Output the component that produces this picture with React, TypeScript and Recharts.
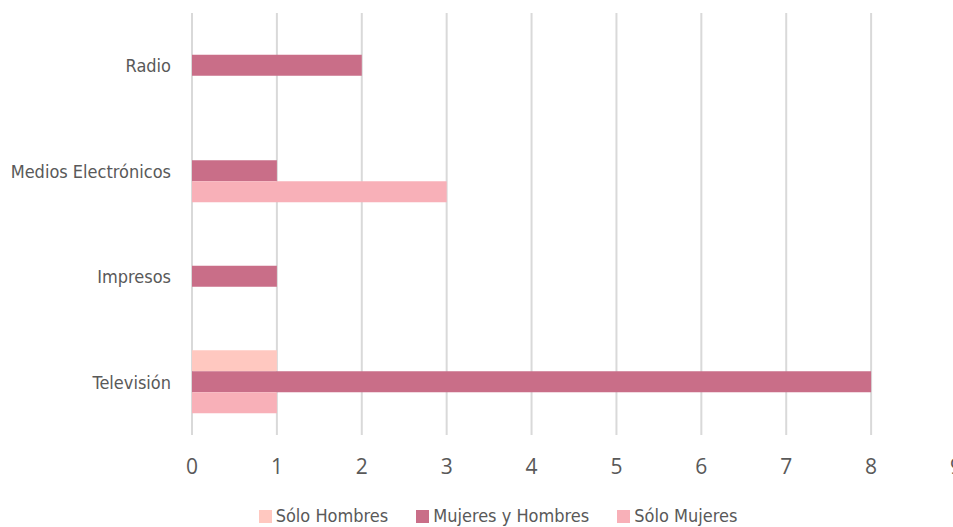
import { BarChart, Bar, XAxis, YAxis, CartesianGrid, Legend } from 'recharts';

const categories = ['Radio', 'Medios Electrónicos', 'Impresos', 'Televisión'];
const soloHombres = [0, 0, 0, 1];
const mujeresYHombres = [2, 1, 1, 8];
const soloMujeres = [0, 3, 0, 1];
const xTicks = [0, 1, 2, 3, 4, 5, 6, 7, 8, 9];

const series = [
  { key: 'soloHombres', name: 'Sólo Hombres', color: '#FFC8C0' },
  { key: 'mujeresYHombres', name: 'Mujeres y Hombres', color: '#C96E88' },
  { key: 'soloMujeres', name: 'Sólo Mujeres', color: '#F8B0B8' },
];

const data = categories.map((name, i) => ({
  name,
  soloHombres: soloHombres[i],
  mujeresYHombres: mujeresYHombres[i],
  soloMujeres: soloMujeres[i],
}));

const narrow = '"Liberation Sans Narrow", "DejaVu Sans Condensed", sans-serif';

function LegendRow() {
  return (
    <div style={{ display: 'flex', justifyContent: 'center', gap: 28, fontFamily: narrow, fontSize: 18, lineHeight: '24px', color: '#595959', paddingLeft: 40 }}>
      {series.map((s) => (
        <div key={s.key} style={{ display: 'flex', alignItems: 'center', gap: 4 }}>
          <span style={{ display: 'inline-block', width: 13, height: 13, background: s.color }} />
          <span>{s.name}</span>
        </div>
      ))}
    </div>
  );
}

export default function App() {
  return (
    <div style={{ position: 'absolute', left: 0, top: 0, width: 953, height: 527, overflow: 'hidden', background: '#fff' }}>
      <BarChart
        width={970}
        height={527}
        data={data}
        layout="vertical"
        margin={{ top: 13, right: 14, bottom: 0, left: 0 }}
        barCategoryGap="19.6%"
        barGap={0}
      >
        <CartesianGrid horizontal={false} stroke="#D9D9D9" strokeWidth={2} />
        <XAxis
          type="number"
          domain={[0, 9]}
          ticks={xTicks}
          axisLine={false}
          tickLine={false}
          tickSize={0}
          tickMargin={24}
          height={68}
          interval={0}
          tick={{ fill: '#595959', fontSize: 21, fontFamily: '"Open Sans", sans-serif' }}
        />
        <YAxis
          type="category"
          dataKey="name"
          width={192}
          axisLine={false}
          tickLine={false}
          tickSize={0}
          tickMargin={21}
          tick={{ fill: '#595959', fontSize: 18, fontFamily: narrow }}
        />
        <Legend verticalAlign="bottom" wrapperStyle={{ bottom: -1 }} content={() => <LegendRow />} />
        {series.map((s) => (
          <Bar key={s.key} dataKey={s.key} name={s.name} fill={s.color} isAnimationActive={false} />
        ))}
      </BarChart>
    </div>
  );
}
